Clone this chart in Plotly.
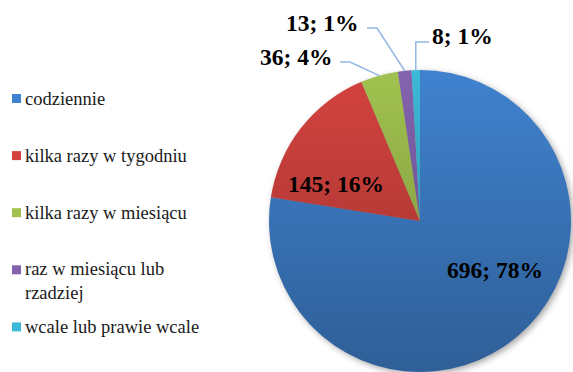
import math
import base64
import plotly.graph_objects as go

# Survey answers: how often
categories = [
    "codziennie",
    "kilka razy w tygodniu",
    "kilka razy w miesiącu",
    "raz w miesiącu lub rzadziej",
    "wcale lub prawie wcale",
]
counts = [696, 145, 36, 13, 8]
colors = ["#4082CF", "#D4433F", "#A1C24F", "#8463AE", "#3CB9D8"]

W, H = 573, 372
CX, CY, R = 420, 221, 151          # pie centre and radius in pixels
SERIF = "Liberation Serif, Times New Roman, serif"
LEADER = "#93B8E4"


def px(x):
    return x / W


def py(y):
    return 1 - y / H


def svg_uri(svg):
    return "data:image/svg+xml;base64," + base64.b64encode(svg.encode()).decode()


total = sum(counts)
label_text = [f"{v}; {round(100 * v / total)}%" for v in counts]

fig = go.Figure(
    go.Pie(
        labels=categories,
        values=counts,
        sort=False,
        direction="clockwise",
        rotation=0,
        marker=dict(colors=colors, line=dict(width=0)),
        textinfo="none",
        hoverinfo="label+value+percent",
        showlegend=False,
        domain=dict(x=[px(CX - R), px(CX + R)], y=[py(CY + R), py(CY - R)]),
    )
)

# vertical darkening over the disc, and a soft drop shadow beneath it
shade_svg = (
    '<svg xmlns="http://www.w3.org/2000/svg" width="200" height="200" viewBox="0 0 200 200">'
    '<defs><linearGradient id="g" x1="0" y1="0" x2="0" y2="1">'
    '<stop offset="0" stop-color="#000" stop-opacity="0"/>'
    '<stop offset="1" stop-color="#000" stop-opacity="0.27"/>'
    '</linearGradient></defs>'
    '<circle cx="100" cy="100" r="100" fill="url(#g)"/></svg>'
)
shadow_svg = (
    '<svg xmlns="http://www.w3.org/2000/svg" width="220" height="220" viewBox="0 0 220 220">'
    '<defs><filter id="b" x="-20%" y="-20%" width="140%" height="140%">'
    '<feGaussianBlur stdDeviation="2.2"/></filter></defs>'
    '<circle cx="111.5" cy="111.5" r="100" fill="#000" fill-opacity="0.35" filter="url(#b)"/></svg>'
)
pad = R * 0.1
images = [
    dict(source=svg_uri(shadow_svg), xref="paper", yref="paper",
         x=px(CX - R - pad), y=py(CY - R - pad),
         sizex=px(2 * (R + pad)), sizey=(2 * (R + pad)) / H,
         xanchor="left", yanchor="top", sizing="stretch", layer="below"),
    dict(source=svg_uri(shade_svg), xref="paper", yref="paper",
         x=px(CX - R), y=py(CY - R), sizex=px(2 * R), sizey=(2 * R) / H,
         xanchor="left", yanchor="top", sizing="stretch", layer="above"),
]

# mid-angle point of each slice on the rim (clockwise from 12 o'clock)
rim = []
acc = 0
for v in counts:
    theta = 2 * math.pi * (acc + v / 2) / total
    rim.append((CX + R * math.sin(theta), CY - R * math.cos(theta)))
    acc += v

# data label placement: centre of text, and optional leader (start, elbow)
label_pos = [(495, 270), (336, 184), (296, 57), (322, 23), (462, 36)]
leaders = {
    2: ((340, 62), (350, 62)),
    3: ((367, 28), (377, 28)),
    4: ((429, 42), (None, 42)),
}

annotations = []
shapes = []
for i, txt in enumerate(label_text):
    x, y = label_pos[i]
    annotations.append(dict(
        x=px(x), y=py(y), xref="paper", yref="paper",
        text=f"<b>{txt}</b>", showarrow=False,
        xanchor="center", yanchor="middle",
        font=dict(family=SERIF, size=23.5, color="#000000"),
    ))
    if i in leaders:
        (sx, sy), (ex, ey) = leaders[i]
        rx, ry = rim[i]
        if ex is None:
            ex = rx
        path = f"M {px(sx)} {py(sy)} L {px(ex)} {py(ey)} L {px(rx)} {py(ry)}"
        shapes.append(dict(type="path", path=path, xref="paper", yref="paper",
                           line=dict(color=LEADER, width=1.5)))

# legend column
LEG_Y0, LEG_STEP = 98.5, 57.1
LINE_H = 22
for i, cat in enumerate(categories):
    yc = LEG_Y0 + i * LEG_STEP
    shapes.append(dict(
        type="rect", xref="paper", yref="paper",
        x0=px(12), x1=px(21), y0=py(yc + 4.5), y1=py(yc - 4.5),
        fillcolor=colors[i], line=dict(width=0),
    ))
    text = cat
    ty = yc
    if len(cat) > 24:
        head, tail = cat.rsplit(" ", 1)
        text = f"{head}<br>{tail}"
        ty = yc + LINE_H / 2
    annotations.append(dict(
        x=px(23), y=py(ty), xref="paper", yref="paper",
        text=text, showarrow=False, align="left",
        xanchor="left", yanchor="middle",
        font=dict(family=SERIF, size=18.5, color="#1A1A1A"),
    ))

fig.update_layout(
    width=W, height=H,
    margin=dict(l=0, r=0, t=0, b=0),
    paper_bgcolor="white",
    plot_bgcolor="white",
    annotations=annotations,
    shapes=shapes,
    images=images,
)

fig.write_html("out.html")
